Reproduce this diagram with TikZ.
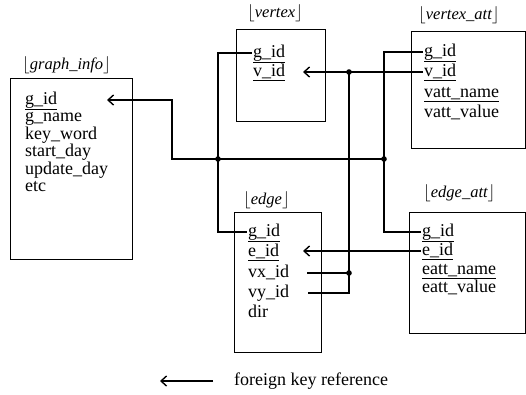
\documentclass[tikz,border=0pt]{standalone}
\usepackage{fontspec}
\setmainfont{Liberation Serif}
\usetikzlibrary{arrows.meta}
\begin{document}
\begin{tikzpicture}[x=1pt,y=-1pt,
  box/.style={draw, line width=1.4pt, inner sep=0pt, anchor=north west},
  field/.style={anchor=west, inner xsep=1pt, inner ysep=0pt, text height=12pt, text depth=4pt, font=\fontsize{18}{18}\selectfont},
  ttl/.style={anchor=west, inner sep=0pt, font=\fontsize{16.5}{16.5}\selectfont\itshape},
  conn/.style={line width=1.2pt},
  fk/.style={conn, -{Straight Barb[length=5.5pt,width=10pt,line width=1.4pt]}},
  jdot/.style={radius=2.8pt}]
\useasboundingbox (0,0) rectangle (526,394);

% boxes
\node[box, minimum width=122pt, minimum height=181pt] (gi) at (10,78) {};
\node[box, minimum width=89pt, minimum height=92pt] (vx) at (236,29) {};
\node[box, minimum width=114pt, minimum height=117pt] (va) at (411,31) {};
\node[box, minimum width=87pt, minimum height=140pt] (ed) at (234,212) {};
\node[box, minimum width=116pt, minimum height=121pt] (ea) at (409,212) {};

% titles
\node[ttl] (gi-t) at (22,65) {$\lfloor$graph\_info$\rfloor$};
\node[ttl] (vx-t) at (247,13) {$\lfloor$vertex$\rfloor$};
\node[ttl] (va-t) at (418,15) {$\lfloor$vertex\_att$\rfloor$};
\node[ttl] (ed-t) at (243,200) {$\lfloor$edge$\rfloor$};
\node[ttl] (ea-t) at (423,193) {$\lfloor$edge\_att$\rfloor$};

% graph_info fields
\node[field] (gi-gid) at (24,100) {\underline{g\_id}};
\node[field] (gi-gname) at (24,117.5) {g\_name};
\node[field] (gi-kw) at (24,135) {key\_word};
\node[field] (gi-sd) at (24,152.5) {start\_day};
\node[field] (gi-ud) at (24,170) {update\_day};
\node[field] (gi-etc) at (24,187.5) {etc};

% vertex fields
\node[field] (vx-gid) at (252,53) {\underline{g\_id}};
\node[field] (vx-vid) at (252,72) {\underline{v\_id}};

% vertex_att fields
\node[field] (va-gid) at (423,52) {\underline{g\_id}};
\node[field] (va-vid) at (423,72) {\underline{v\_id}};
\node[field] (va-vn) at (423,93) {\underline{vatt\_name}};
\node[field] (va-vv) at (423,113) {vatt\_value};

% edge fields
\node[field] (ed-gid) at (247,232) {\underline{g\_id}};
\node[field] (ed-eid) at (247,252) {\underline{e\_id}};
\node[field] (ed-vx) at (247,273) {vx\_id};
\node[field] (ed-vy) at (247,293) {vy\_id};
\node[field] (ed-dir) at (247,313) {dir};

% edge_att fields
\node[field] (ea-gid) at (421,232) {\underline{g\_id}};
\node[field] (ea-eid) at (421,251) {\underline{e\_id}};
\node[field] (ea-en) at (421,270) {\underline{eatt\_name}};
\node[field] (ea-ev) at (421,288) {eatt\_value};

% routing points
\coordinate (gitip) at (107,100);
\coordinate (b1) at (172,159);
\coordinate (j1) at (218,159);
\coordinate (j2) at (384,159);
\coordinate (vxtip) at (303,72);
\coordinate (j3) at (349,72);
\coordinate (j4) at (349,273);
\coordinate (vxs) at (307,273);
\coordinate (vys) at (308,293);
\coordinate (edtip) at (303,251);

% connectors
\draw[fk] (j2) -- (b1) |- (gitip);
\draw[conn] (vx-gid.west) -| (j1) |- (ed-gid.west);
\draw[conn] (va-gid.west) -| (j2) |- (ea-gid.west);
\draw[fk] (va-vid.west) -- (vxtip);
\draw[conn] (j3) |- (vys);
\draw[conn] (j4) -- (vxs);
\draw[fk] (ea-eid.west) -- (edtip);

\fill (j1) circle[jdot];
\fill (j2) circle[jdot];
\fill (j3) circle[jdot];
\fill (j4) circle[jdot];

% legend
\coordinate (lgs) at (213,381);
\coordinate (lgtip) at (160,381);
\node[field] (lg) at (233,381) {foreign key reference};
\draw[fk] (lgs) -- (lgtip);
\end{tikzpicture}
\end{document}
